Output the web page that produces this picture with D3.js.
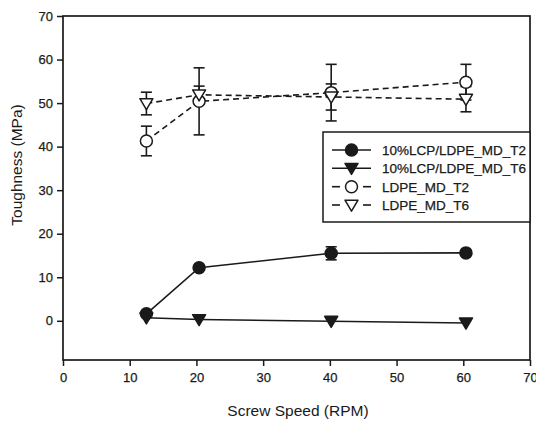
<!DOCTYPE html>
<html><head><meta charset="utf-8">
<script src="https://cdn.jsdelivr.net/npm/d3@7"></script>
<style>body{margin:0;background:#fff}svg{display:block}text{font-family:"Liberation Sans",Arial,sans-serif;fill:#1a1a1a}</style>
</head><body>
<script>
const screwSpeed = [12.5, 20.4, 40.2, 60.4];
const seriesNames = ["10%LCP/LDPE_MD_T2", "10%LCP/LDPE_MD_T6", "LDPE_MD_T2", "LDPE_MD_T6"];
const lcpT2 = [1.6, 12.2, 15.5, 15.6];
const lcpT2Err = [0, 0, 1.5, 0];
const lcpT6 = [0.7, 0.3, -0.1, -0.5];
const lcpT6Err = [0, 0, 0, 0];
const ldpeT2 = [41.3, 50.4, 52.4, 54.8];
const ldpeT2Err = [3.4, 7.7, 6.5, 4.1];
const ldpeT6 = [49.9, 51.9, 51.4, 50.9];
const ldpeT6Err = [2.6, 2.0, 3.0, 2.9];
const xTicks = [0, 10, 20, 30, 40, 50, 60, 70];
const yTicks = [0, 10, 20, 30, 40, 50, 60, 70];

(function () {
const W = 536, H = 423;
const mL = 63, mR = 530, mT = 16, mB = 360;
const svg = d3.select("body").append("svg").attr("width", W).attr("height", H);
const x = d3.scaleLinear().domain([0, 70]).range([mL, mR]);
const y = d3.scaleLinear().domain([-9, 70]).range([mB, mT]);
const ink = "#1a1a1a";

svg.append("rect").attr("x", mL).attr("y", mT).attr("width", mR - mL).attr("height", mB - mT)
  .attr("fill", "none").attr("stroke", ink).attr("stroke-width", 1.7);

const xAxis = svg.append("g").attr("transform", `translate(0,${mB})`)
  .call(d3.axisBottom(x).tickValues(xTicks).tickSize(6).tickPadding(7));
const yAxis = svg.append("g").attr("transform", `translate(${mL},0)`)
  .call(d3.axisLeft(y).tickValues(yTicks).tickSize(6).tickPadding(4));
[xAxis, yAxis].forEach(g => {
  g.select(".domain").remove();
  g.selectAll("line").attr("stroke", ink).attr("stroke-width", 1.5);
  g.selectAll("text").style("font-size", "13px").style("fill", ink)
    .style("font-family", '"Liberation Sans",Arial,sans-serif').style("stroke", ink).style("stroke-width", 0.25);
});

svg.append("text").attr("x", 298).attr("y", 416).attr("text-anchor", "middle")
  .style("font-size", "15.5px").text("Screw Speed (RPM)");
svg.append("text").attr("transform", "translate(22,165) rotate(-90)").attr("text-anchor", "middle")
  .style("font-size", "15.5px").text("Toughness (MPa)");

const series = [
  {vals: lcpT2, err: lcpT2Err, marker: "circle", fill: ink, dash: null},
  {vals: lcpT6, err: lcpT6Err, marker: "tri", fill: ink, dash: null},
  {vals: ldpeT2, err: ldpeT2Err, marker: "circle", fill: "#fff", dash: "6,4"},
  {vals: ldpeT6, err: ldpeT6Err, marker: "tri", fill: "#fff", dash: "6,4"}
];

const line = d3.line().x(d => x(d[0])).y(d => y(d[1]));

function drawMarker(g, type, cx, cy, fill) {
  if (type === "circle") {
    g.append("circle").attr("cx", cx).attr("cy", cy).attr("r", 6)
      .attr("fill", fill).attr("stroke", ink).attr("stroke-width", 1.5);
  } else {
    const s = 6.5;
    g.append("path").attr("d", `M${cx - s},${cy - s * 0.75}L${cx + s},${cy - s * 0.75}L${cx},${cy + s * 0.95}Z`)
      .attr("fill", fill).attr("stroke", ink).attr("stroke-width", 1.5).attr("stroke-linejoin", "round");
  }
}

series.forEach(s => {
  const g = svg.append("g");
  s.vals.forEach((v, i) => {
    const e = s.err[i];
    if (!e) return;
    const cx = x(screwSpeed[i]);
    g.append("line").attr("x1", cx).attr("x2", cx).attr("y1", y(v - e)).attr("y2", y(v + e))
      .attr("stroke", ink).attr("stroke-width", 1.6);
    [v - e, v + e].forEach(t => g.append("line").attr("x1", cx - 5.5).attr("x2", cx + 5.5)
      .attr("y1", y(t)).attr("y2", y(t)).attr("stroke", ink).attr("stroke-width", 1.6));
  });
});

series.forEach(s => {
  svg.append("path").datum(s.vals.map((v, i) => [screwSpeed[i], v])).attr("d", line)
    .attr("fill", "none").attr("stroke", ink).attr("stroke-width", 1.6)
    .attr("stroke-dasharray", s.dash);
});
series.forEach(s => {
  const g = svg.append("g");
  s.vals.forEach((v, i) => drawMarker(g, s.marker, x(screwSpeed[i]), y(v), s.fill));
});

const lg = svg.append("g");
lg.append("rect").attr("x", 323).attr("y", 132).attr("width", 207).attr("height", 90)
  .attr("fill", "#fff").attr("stroke", ink).attr("stroke-width", 1.5);
const rowY = [150, 168.3, 186.7, 205];
series.forEach((s, i) => {
  const cy = rowY[i];
  if (s.dash) {
    lg.append("line").attr("x1", 332).attr("x2", 340).attr("y1", cy).attr("y2", cy).attr("stroke", ink).attr("stroke-width", 1.6);
    lg.append("line").attr("x1", 363).attr("x2", 371).attr("y1", cy).attr("y2", cy).attr("stroke", ink).attr("stroke-width", 1.6);
  } else {
    lg.append("line").attr("x1", 332).attr("x2", 371).attr("y1", cy).attr("y2", cy).attr("stroke", ink).attr("stroke-width", 1.6);
  }
  drawMarker(lg, s.marker, 351.5, cy, s.fill);
  lg.append("text").attr("x", 382).attr("y", cy).attr("dy", "0.36em")
    .style("font-size", "13.5px").style("stroke", ink).style("stroke-width", 0.25).text(seriesNames[i]);
});
})();
</script>
</body></html>
